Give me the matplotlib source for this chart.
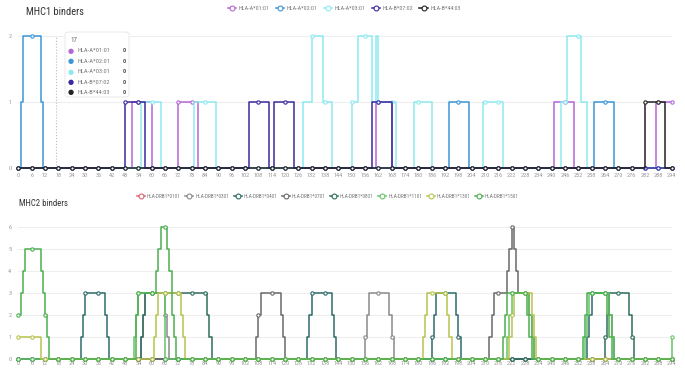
import matplotlib.pyplot as plt
from matplotlib.patches import FancyBboxPatch
import numpy as np

plt.rcParams['font.family'] = ['Roboto Condensed', 'Roboto', 'DejaVu Sans']

# positions along the protein
positions = np.arange(0, 295)
xticks = np.arange(0, 295, 6)

# MHC1 binders: (first, last, count) runs, zero elsewhere
mhc1_names = ['HLA-A*01:01', 'HLA-A*02:01', 'HLA-A*03:01', 'HLA-B*07:02', 'HLA-B*44:03']
mhc1_colors = ['#b566d6', '#3d96d6', '#8ee9f2', '#3a2aa0', '#222222']
a0101 = [(51, 59, 1), (72, 80, 1), (161, 167, 1), (241, 249, 1), (287, 294, 1)]
a0201 = [(1, 1, 1), (2, 9, 2), (10, 10, 1), (194, 202, 1), (259, 267, 1)]
a0301 = [(55, 63, 1), (79, 88, 1), (128, 131, 1), (132, 136, 2), (137, 140, 1),
         (150, 152, 1), (153, 158, 2), (159, 160, 1), (161, 161, 2), (162, 169, 1),
         (178, 185, 1), (209, 217, 1), (244, 246, 1), (247, 252, 2), (253, 255, 1)]
b0702 = [(48, 56, 1), (104, 112, 1), (115, 123, 1), (159, 167, 1)]
b4403 = [(282, 290, 1)]
mhc1_runs = [a0101, a0201, a0301, b0702, b4403]

# MHC2 binders
mhc2_names = ['HLA-DRB1*0101', 'HLA-DRB1*0301', 'HLA-DRB1*0401', 'HLA-DRB1*0701',
              'HLA-DRB1*0801', 'HLA-DRB1*1101', 'HLA-DRB1*1301', 'HLA-DRB1*1501']
mhc2_colors = ['#d9646e', '#8a8a8a', '#2f6a6a', '#6a6a6a',
               '#2f6e5c', '#66c466', '#b9c44e', '#4caf50']
drb0101 = []
drb0301 = [(55, 55, 1), (56, 56, 2), (57, 65, 3), (66, 66, 2), (67, 67, 1),
           (156, 156, 1), (157, 157, 2), (158, 166, 3), (167, 167, 2), (168, 168, 1)]
drb0401 = [(28, 28, 1), (29, 29, 2), (30, 38, 3), (39, 39, 2), (40, 40, 1),
           (130, 130, 1), (131, 131, 2), (132, 140, 3), (141, 141, 2), (142, 142, 1),
           (186, 186, 1), (187, 187, 2), (188, 196, 3), (197, 197, 2), (198, 198, 1),
           (256, 256, 1), (257, 257, 2), (258, 265, 3), (266, 266, 2), (267, 267, 1)]
drb0701 = [(107, 107, 1), (108, 108, 2), (109, 117, 3), (118, 118, 2), (119, 119, 1),
           (212, 212, 1), (213, 213, 2), (214, 219, 3), (220, 220, 4), (221, 221, 5),
           (222, 222, 6), (223, 223, 5), (224, 224, 4), (225, 229, 3), (230, 230, 2),
           (231, 231, 1)]
drb0801 = [(55, 55, 1), (56, 56, 2), (57, 84, 3), (85, 85, 2), (86, 86, 1),
           (264, 264, 1), (265, 265, 2), (266, 274, 3), (275, 275, 2), (276, 276, 1)]
drb1101 = [(52, 52, 1), (53, 53, 2), (54, 65, 3),
           (220, 220, 1), (221, 221, 2), (222, 229, 3), (230, 230, 2), (231, 231, 1),
           (255, 255, 1), (256, 256, 2), (257, 265, 3), (266, 266, 2), (267, 267, 1),
           (294, 294, 1)]
drb1301 = [(0, 9, 1),
           (61, 61, 1), (62, 62, 2), (63, 72, 3), (73, 73, 2), (74, 74, 1),
           (182, 182, 1), (183, 183, 2), (184, 192, 3), (193, 193, 2), (194, 194, 1),
           (221, 221, 1), (222, 222, 2), (223, 230, 3), (231, 231, 2), (232, 232, 1)]
drb1501 = [(0, 0, 2), (1, 1, 3), (2, 2, 4), (3, 9, 5), (10, 10, 4), (11, 11, 3),
           (12, 12, 2), (13, 13, 1),
           (53, 53, 2), (54, 61, 3), (62, 62, 4), (63, 63, 5), (64, 66, 6), (67, 67, 5),
           (68, 68, 4), (69, 69, 2), (70, 70, 1),
           (218, 218, 1), (219, 219, 2), (220, 228, 3), (229, 229, 2), (230, 230, 1),
           (254, 254, 1), (255, 255, 2), (256, 264, 3), (265, 265, 2), (266, 266, 1)]
mhc2_runs = [drb0101, drb0301, drb0401, drb0701, drb0801, drb1101, drb1301, drb1501]

# tooltip shown at position 17
hover_pos = 17


def counts(runs):
    y = np.zeros(len(positions))
    for first, last, v in runs:
        y[(positions >= first) & (positions <= last)] = v
    return y


W, H = 685, 369
fig = plt.figure(figsize=(W / 100, H / 100), dpi=100)


def fx(px):
    return px / W


def fy(py):
    return 1 - py / H


def setup(ax, ymax, pad):
    ax.set_xlim(0, 294)
    ax.set_ylim(0, ymax)
    ax.set_xticks(xticks)
    ax.set_yticks(range(ymax + 1))
    ax.tick_params(labelsize=4.5, colors='#999999', length=0)
    ax.tick_params(axis='x', pad=pad)
    ax.tick_params(axis='y', pad=5)
    ax.grid(axis='y', color='#eeeeee', lw=0.8)
    ax.set_axisbelow(True)
    for s in ax.spines.values():
        s.set_visible(False)


def draw(ax, runs_list, names, colors):
    for runs, name, c in zip(runs_list, names, colors):
        ax.plot(positions, counts(runs), drawstyle='steps-post', color=c, lw=1.1,
                marker='o', ms=2.4, mfc='white', mec=c, mew=0.8, markevery=6,
                label=name, clip_on=False)


ax1 = fig.add_axes([fx(18.3), fy(168), fx(653.4), 132 / H])
setup(ax1, 2, 3.5)
ax1.axvline(hover_pos, color='#bbbbbb', ls=':', lw=0.8)
draw(ax1, mhc1_runs, mhc1_names, mhc1_colors)

ax2 = fig.add_axes([fx(18.3), fy(359.3), fx(653.4), 132.6 / H])
setup(ax2, 6, 1.5)
draw(ax2, mhc2_runs, mhc2_names, mhc2_colors)

fig.text(fx(26), fy(12), 'MHC1 binders', fontsize=7.5, color='#333333', va='center')
fig.text(fx(19), fy(203), 'MHC2 binders', fontsize=6.3, color='#333333', va='center')

leg_kw = dict(frameon=False, numpoints=1, handlelength=1.5, handletextpad=0.35,
              labelcolor='#777777', borderaxespad=0)
h1, l1 = ax1.get_legend_handles_labels()
fig.legend(h1, l1, loc='center', bbox_to_anchor=(fx(344), fy(8)), ncol=5,
           fontsize=4.2, columnspacing=1.1, **leg_kw)
h2, l2 = ax2.get_legend_handles_labels()
fig.legend(h2, l2, loc='center', bbox_to_anchor=(fx(328), fy(196)), ncol=8,
           fontsize=3.8, columnspacing=0.9, **leg_kw)
for leg in fig.legends:
    for ln in leg.get_lines():
        ln.set_markersize(3.5)

# tooltip box
box = FancyBboxPatch((fx(65), fy(97)), fx(64), (97 - 32) / H,
                     boxstyle='round,pad=0,rounding_size=0.006',
                     transform=fig.transFigure, fc='white', ec='#e6e6e6', lw=0.6,
                     zorder=10)
fig.patches.append(box)
fig.text(fx(70), fy(40), str(hover_pos), fontsize=5, color='#666666', va='center', zorder=11)
row_y = [50.7, 61.3, 71.7, 82, 92.3]
for yy, name, c in zip(row_y, mhc1_names, mhc1_colors):
    fig.text(fx(71), fy(yy), '\u25cf', fontsize=5, color=c, ha='center', va='center',
             family='DejaVu Sans', zorder=11)
    fig.text(fx(77), fy(yy), name, fontsize=4.6, color='#777777', va='center', zorder=11)
    fig.text(fx(123), fy(yy), '0', fontsize=4.6, color='#555555', va='center',
             fontweight='bold', zorder=11)

fig.savefig('out.png', dpi=100, facecolor='white')
